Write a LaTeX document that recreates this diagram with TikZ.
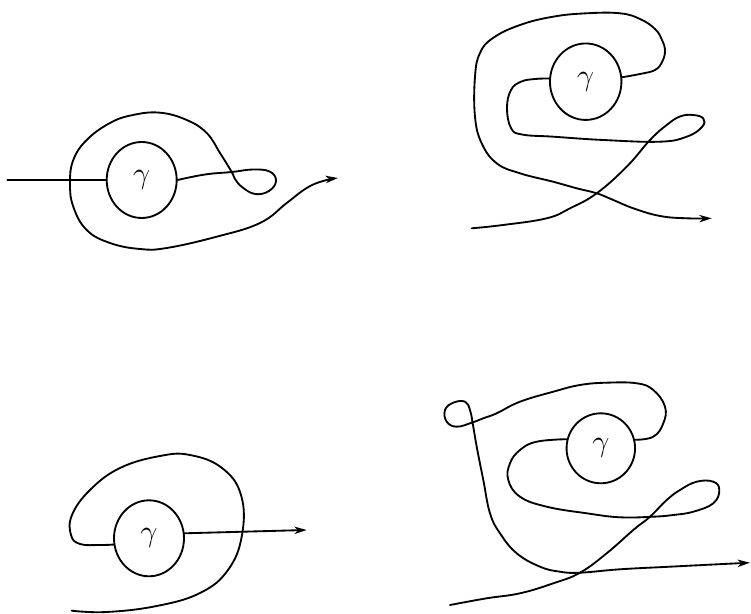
\documentclass[tikz,border=0pt]{standalone}
\usetikzlibrary{shapes.geometric,arrows.meta}
\begin{document}
\begin{tikzpicture}[x=0.02cm,y=-0.02cm,
  curve/.style={line width=1.05pt, line cap=round, line join=round},
  disk/.style={draw, ellipse, line width=1.05pt, inner sep=0pt, minimum width=1.4cm, minimum height=1.52cm, font=\LARGE},
  arr/.style={-{Stealth[length=7pt,width=4.2pt,inset=2pt]}}]
\useasboundingbox (0,0) rectangle (751,614);

% ---------- diagram 1 (top left)
\node[disk] (g1) at (141.7,180) {$\gamma$};
\coordinate (s1) at (7.3,180);
\coordinate (e1) at (338,178);
\draw[curve] (s1) -- (g1.west);
\draw[curve,arr] plot[smooth,tension=0.7] coordinates {(g1.east) (205,174.5) (231.7,172) (253.3,169.5) (270,171.7) (276,181) (269,191) (255,194) (242,187) (235,179) (231.7,172) (220,153) (206.7,133) (186.7,120) (160,112.7) (133,115) (110,123) (86.7,140) (73.3,160) (70,183) (73.3,206.7) (86.7,230) (110,243) (140,249) (166.7,248) (216.7,236.7) (260,223) (286.7,203) (306.7,188) (323,181) (e1)};

% ---------- diagram 2 (top right)
\node[disk, minimum width=1.43cm, minimum height=1.53cm] (g2) at (585.7,81.7) {$\gamma$};
\coordinate (s2) at (471.7,228.3);
\coordinate (e2) at (711.7,218.3);
\draw[curve] plot[smooth,tension=0.7] coordinates {(s2) (503,225) (546.7,218.3) (570,208.3) (596.7,193.3) (626.7,166.7) (650,140) (666.7,125) (680,116.5) (693,115) (703.3,118.5) (702,127) (686.7,136.7) (660,141.7) (603.3,140) (553.3,136.7) (522,134.5) (511,128) (507,108) (511,90) (521,81.7) (535,79) (g2.175)};
\draw[curve,arr] plot[smooth,tension=0.7] coordinates {(g2.7) (640,74) (655,70) (662,62) (665,51) (662,40) (655,29) (640,19) (620,13.3) (586.7,13.3) (553,16.7) (520,25) (493,38) (480,53) (475,76.7) (475,116.7) (481.7,143.3) (496.7,163.3) (520,173.3) (553,181.7) (576.7,188.3) (596.7,193.3) (613.3,200) (633.3,208.3) (660,216) (686.7,218.3) (e2)};

% ---------- diagram 3 (bottom left)
\node[disk] (g3) at (149,538.3) {$\gamma$};
\coordinate (s3) at (71.7,610.7);
\coordinate (e3) at (306.7,530);
\draw[curve] plot[smooth,tension=0.7] coordinates {(s3) (106.7,612) (156.7,606) (200,593) (228,570) (242,535) (241,495) (222,468) (190,455) (160,456) (120,468) (90,490) (72,515) (71,535) (80,544) (100,545) (g3.190)};
\draw[curve,arr] (g3.8) -- (e3);

% ---------- diagram 4 (bottom right)
\node[disk, minimum width=1.37cm, minimum height=1.4cm] (g4) at (600.8,448.3) {$\gamma$};
\coordinate (s4) at (450,605);
\coordinate (e4) at (750,562.7);
\draw[curve] plot[smooth,tension=0.7] coordinates {(s4) (486.7,598.3) (520,593.3) (553.3,583.3) (580,572.7) (606.7,553.3) (633.3,530) (650,516.7) (666.7,500) (680,490) (696.7,481.7) (713.3,481.7) (719.3,490) (713.3,503.3) (693.3,511.7) (673.3,515) (653.3,516.7) (620,517.3) (586.7,513.3) (546.7,506.7) (520,496.7) (508.3,480) (510,463.3) (520,450) (536.7,441.7) (g4.165)};
\draw[curve,arr] plot[smooth,tension=0.7] coordinates {(g4.14) (653.3,436.7) (663.3,423.3) (665,406.7) (653.3,390) (636.7,383.3) (606.7,382.7) (580,385) (553.3,391.7) (520,401.7) (496.7,413.3) (483.3,418.3) (471.7,422.7) (456.7,426.7) (446.7,421.7) (445,410) (453.3,402.7) (465,401.7) (470,410) (472.7,423.3) (476.7,446.7) (483.3,480) (490,513.3) (500,533.3) (516.7,553.3) (540,566.7) (560,571.7) (580,572.7) (620,569.3) (670,566.7) (703.3,565) (e4)};
\end{tikzpicture}
\end{document}
